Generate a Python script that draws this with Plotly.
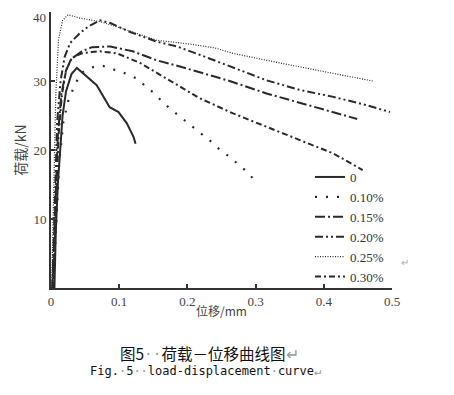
import plotly.graph_objects as go

# ---- data (displacement mm, load kN) ----
names = ["0", "0.10%", "0.15%", "0.20%", "0.25%", "0.30%"]

x_0 = [0.005, 0.007, 0.010, 0.013, 0.017, 0.022, 0.030, 0.038, 0.045, 0.052, 0.060, 0.067, 0.077, 0.086, 0.099, 0.111, 0.121, 0.124]
y_0 = [0.0, 8.0, 15.0, 20.0, 25.0, 28.5, 31.0, 31.9, 31.3, 30.6, 30.0, 29.4, 27.7, 26.2, 25.5, 23.9, 21.9, 20.9]

x_10 = [0.003, 0.008, 0.012, 0.018, 0.025, 0.035, 0.045, 0.055, 0.065, 0.076, 0.094, 0.112, 0.127, 0.140, 0.152, 0.164, 0.177, 0.192, 0.206, 0.221, 0.235, 0.248, 0.262, 0.276, 0.289, 0.300]
y_10 = [0.0, 10.0, 18.0, 24.0, 27.0, 29.5, 31.2, 31.8, 32.1, 32.2, 31.6, 31.0, 30.3, 29.1, 28.2, 26.9, 25.8, 24.6, 23.5, 22.4, 21.2, 20.0, 19.0, 17.8, 16.7, 15.4]

x_15 = [0.002, 0.006, 0.010, 0.015, 0.022, 0.030, 0.045, 0.060, 0.075, 0.087, 0.120, 0.155, 0.189, 0.218, 0.262, 0.316, 0.365, 0.414, 0.449]
y_15 = [0.0, 12.0, 22.0, 28.0, 31.5, 33.2, 34.3, 34.9, 35.0, 35.0, 34.3, 33.0, 32.1, 31.3, 30.0, 28.2, 26.8, 25.5, 24.5]

x_20 = [0.002, 0.005, 0.009, 0.014, 0.020, 0.028, 0.043, 0.055, 0.072, 0.087, 0.116, 0.155, 0.185, 0.218, 0.267, 0.316, 0.365, 0.414, 0.463, 0.497]
y_20 = [0.0, 12.0, 24.0, 30.0, 33.5, 35.5, 37.0, 37.9, 38.8, 38.4, 37.1, 35.7, 35.0, 33.8, 31.9, 30.1, 28.7, 27.7, 26.5, 25.5]

x_25 = [0.001, 0.004, 0.007, 0.011, 0.017, 0.025, 0.043, 0.072, 0.111, 0.155, 0.200, 0.240, 0.267, 0.316, 0.365, 0.414, 0.472]
y_25 = [0.0, 15.0, 28.0, 36.0, 38.8, 39.6, 39.1, 38.6, 37.4, 35.9, 35.4, 34.8, 34.0, 33.0, 32.0, 31.1, 30.0]

x_30 = [0.003, 0.007, 0.011, 0.016, 0.022, 0.030, 0.045, 0.060, 0.072, 0.097, 0.131, 0.160, 0.189, 0.218, 0.267, 0.316, 0.365, 0.414, 0.457]
y_30 = [0.0, 12.0, 22.0, 28.0, 31.5, 33.3, 34.0, 34.2, 34.3, 34.0, 32.6, 30.9, 29.2, 27.5, 25.3, 23.4, 21.4, 19.5, 17.1]

xs = [x_0, x_10, x_15, x_20, x_25, x_30]
ys = [y_0, y_10, y_15, y_20, y_25, y_30]

x_ticks = [0, 0.1, 0.2, 0.3, 0.4, 0.5]
x_tick_labels = ["0", "0.1", "0.2", "0.3", "0.4", "0.5"]
y_ticks = [10, 20, 30, 40]
y_tick_labels = ["10", "20", "30", "40"]

# ---- styles ----
dashes = ["solid", "2px,9px", "10px,3px,2px,3px", "8px,3px,2px,3px,2px,3px", "1px,1.5px", "6px,3px,2px,3px"]
widths = [2.0, 2.2, 2.0, 2.0, 1.2, 2.0]
col = "#2a2a2a"

# page body has an 8px default margin -> design in figure coords (screen - 8)
OFF = 8
W, H = 454 - OFF, 395 - OFF
L, R, T, B = 51 - OFF, 392 - OFF, 12 - OFF, 288 - OFF


def px(xs_):
    return (xs_ - OFF - L) / (R - L)


def py(ys_):
    return (B - (ys_ - OFF)) / (B - T)


fig = go.Figure()
for n, x, y, d, w in zip(names, xs, ys, dashes, widths):
    fig.add_trace(go.Scatter(x=x, y=y, mode="lines", name=n,
                             line=dict(color=col, width=w, dash=d)))

serif = "Liberation Serif"
tick_font = dict(family=serif, size=13, color="#444")
fig.update_layout(
    width=W, height=H,
    margin=dict(l=L, r=W - R, t=T, b=H - B, autoexpand=False),
    paper_bgcolor="white", plot_bgcolor="white",
    showlegend=True,
    legend=dict(x=px(310), y=py(162), xanchor="left", yanchor="top",
                bgcolor="rgba(0,0,0,0)", font=dict(family=serif, size=13, color="#333"),
                itemwidth=30, tracegroupgap=0),
    font=dict(family=serif, color="#333"),
)
fig.update_xaxes(range=[0, 0.5], tickvals=x_ticks, ticktext=x_tick_labels,
                 showgrid=False, zeroline=False, showline=True, linecolor="#333", linewidth=2,
                 ticks="inside", ticklen=4, tickwidth=1.5, tickcolor="#333",
                 tickfont=tick_font, automargin=False,
                 title=dict(text="位移/mm", font=dict(family="Noto Sans CJK SC", size=12, color="#444"), standoff=0))
# top tick label (40) sits at the very top edge; it is drawn as an annotation nudged inside the page
fig.update_yaxes(range=[0, 40], tickvals=y_ticks, ticktext=y_tick_labels[:-1] + [""],
                 showgrid=False, zeroline=False, showline=True, linecolor="#333", linewidth=2,
                 ticks="inside", ticklen=4, tickwidth=1.5, tickcolor="#333",
                 tickfont=tick_font, automargin=False,
                 title=dict(text="荷载/kN", font=dict(family="Noto Sans CJK SC", size=14, color="#444"), standoff=4))
fig.add_annotation(xref="paper", yref="paper", x=0, xshift=-4, y=py(8.5), text=y_tick_labels[-1],
                   showarrow=False, xanchor="right", yanchor="top", font=tick_font,
                   borderpad=0)

gray = "#aaa"
fig.add_annotation(xref="paper", yref="paper", x=px(405), y=py(262), text="↵", showarrow=False,
                   font=dict(size=10, color=gray), xanchor="center", yanchor="middle")
fig.add_annotation(xref="paper", yref="paper", x=px(118), y=py(353),
                   text="图5<span style='color:#999'>··</span>荷载－位移曲线图<span style='color:#999'>↵</span>",
                   showarrow=False, xanchor="left", yanchor="middle",
                   font=dict(family="Noto Sans CJK JP", size=15.5, color="#111"))
fig.add_annotation(xref="paper", yref="paper", x=px(88), y=py(371),
                   text="Fig.<span style='color:#999'>·</span>5<span style='color:#999'>··</span>load-displacement<span style='color:#999'>·</span>curve<span style='color:#999'>↵</span>",
                   showarrow=False, xanchor="left", yanchor="middle",
                   font=dict(family="DejaVu Sans Mono", size=12, color="#111"))

fig.write_html("out.html")
